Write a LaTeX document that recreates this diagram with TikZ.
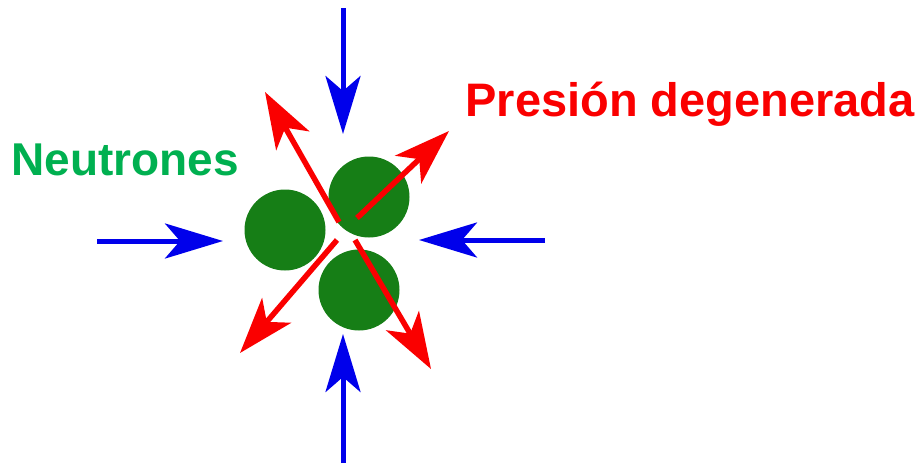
\documentclass[tikz,border=0pt]{standalone}
\usepackage{fontspec}
\setmainfont{Liberation Sans}
\usetikzlibrary{arrows.meta}
\definecolor{ntgreen}{RGB}{0,176,80}
\definecolor{ballgreen}{RGB}{22,126,22}
\definecolor{presred}{RGB}{250,0,0}
\definecolor{pushblue}{RGB}{0,0,235}

\begin{document}
\begin{tikzpicture}[
  x=1pt,y=-1pt,
  nuc/.style ={circle,fill=ballgreen,minimum size=81pt,inner sep=0pt},
  lbl/.style ={anchor=base,font=\fontsize{46}{50}\selectfont\bfseries,inner sep=0pt},
  push/.style={pushblue,line width=5pt,
               -{Stealth[length=58pt,width=35pt,inset=15pt]}},
  pres/.style={presred,line width=5.5pt,
               -{Stealth[length=56pt,width=38pt,inset=15pt]}}
]
\useasboundingbox (0,0) rectangle (920,463);

% neutrons
\node[nuc] (n1) at (285,230) {};
\node[nuc] (n2) at (369,197) {};
\node[nuc] (n3) at (359,290) {};

% labels
\node[lbl,text=ntgreen] (neu) at (125,175) {Neutrones};
\node[lbl,text=presred,font=\fontsize{47}{50}\selectfont\bfseries] (pd) at (690,116) {Presión degenerada};

% outer ends of the compressing arrows
\coordinate (bt0) at (343,8);   \coordinate (bt1) at (343,134);
\coordinate (bl0) at (97,241);  \coordinate (bl1) at (223,241);
\coordinate (br0) at (545,240); \coordinate (br1) at (419,240);
\coordinate (bb0) at (343,463); \coordinate (bb1) at (343,334);

% ends of the pressure arrows
\coordinate (rul0) at (339,222); \coordinate (rul1) at (265,92);
\coordinate (rur0) at (357,218); \coordinate (rur1) at (449,131);
\coordinate (rdl0) at (337,240); \coordinate (rdl1) at (240,353);
\coordinate (rdr0) at (355,240); \coordinate (rdr1) at (431,369);

\draw[push](bt0)--(bt1); \draw[push](bl0)--(bl1);
\draw[push](br0)--(br1); \draw[push](bb0)--(bb1);

\draw[pres](rul0)--(rul1); \draw[pres](rur0)--(rur1);
\draw[pres](rdl0)--(rdl1); \draw[pres](rdr0)--(rdr1);
\end{tikzpicture}
\end{document}
